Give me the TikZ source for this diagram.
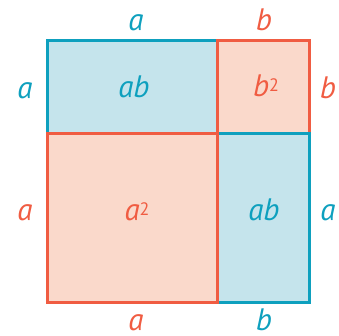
\documentclass[tikz,border=0pt]{standalone}
\usepackage{fontspec}
\setmainfont{PT Sans}
\definecolor{tealline}{RGB}{14,160,190}
\definecolor{tealfill}{RGB}{197,228,236}
\definecolor{redline}{RGB}{240,92,66}
\definecolor{redfill}{RGB}{250,217,203}
\newcommand{\sqtwo}{\raisebox{5.5pt}{\fontsize{18}{18}\selectfont\upshape 2}}
\begin{document}
\begin{tikzpicture}[x=1pt,y=-1pt,
  tealbox/.style={draw=tealline,fill=tealfill,line width=3pt,inner sep=0pt,outer sep=0pt,rectangle},
  redbox/.style={draw=redline,fill=redfill,line width=3pt,inner sep=0pt,outer sep=0pt,rectangle},
  lbl/.style={anchor=base,inner sep=0pt,text depth=0pt,font=\fontsize{31}{31}\selectfont\itshape},
  tlbl/.style={lbl,text=tealline},
  rlbl/.style={lbl,text=redline}]
\useasboundingbox (0,0) rectangle (339,336);
\node[tealbox,minimum width=170pt,minimum height=93pt] (ab1) at (132.5,87.5) {};
\node[redbox,minimum width=91.5pt,minimum height=93pt] (bsq) at (263.25,87.5) {};
\node[tealbox,minimum width=91.5pt,minimum height=168pt] (ab2) at (263.25,218) {};
\node[redbox,minimum width=170pt,minimum height=168pt] (asq) at (132.5,218) {};
% inner texts
\node[tlbl] (t1) at (134,98) {ab};
\node[rlbl] (t2) at (266,97) {b\sqtwo};
\node[rlbl] (t3) at (137,221) {a\sqtwo};
\node[tlbl] (t4) at (264,221) {ab};
% side labels
\node[tlbl] (top1) at (136,31) {a};
\node[rlbl] (top2) at (264,31) {b};
\node[tlbl] (l1) at (25,99) {a};
\node[rlbl] (r1) at (328,99) {b};
\node[rlbl] (l2) at (25,221) {a};
\node[tlbl] (r2) at (328,221) {a};
\node[rlbl] (bot1) at (136,330) {a};
\node[tlbl] (bot2) at (264,330) {b};
\end{tikzpicture}
\end{document}
